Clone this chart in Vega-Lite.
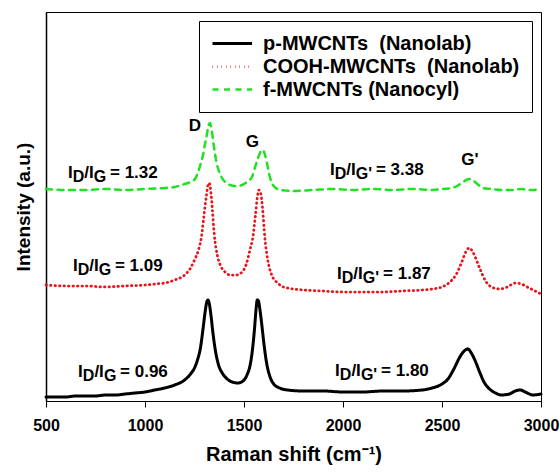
{
  "$schema": "https://vega.github.io/schema/vega-lite/v6.json",
  "width": 495,
  "height": 389,
  "autosize": "none",
  "padding": {"left": 46, "top": 12, "right": 19, "bottom": 73},
  "background": "white",
  "config": {
    "font": "Liberation Sans",
    "view": {"stroke": "black", "strokeWidth": 1},
    "axis": {"grid": false, "domainColor": "black", "tickColor": "black", "labelColor": "black", "titleColor": "black", "labelFont": "Liberation Sans", "titleFont": "Liberation Sans"},
    "legend": {"labelFont": "Liberation Sans"}
  },
  "datasets": {
    "spectra": [
      {"series": "p-MWCNTs\u00a0 (Nanolab)", "shift": 500, "intensity": 4},
      {"series": "p-MWCNTs\u00a0 (Nanolab)", "shift": 550, "intensity": 4},
      {"series": "p-MWCNTs\u00a0 (Nanolab)", "shift": 600, "intensity": 4},
      {"series": "p-MWCNTs\u00a0 (Nanolab)", "shift": 650, "intensity": 5},
      {"series": "p-MWCNTs\u00a0 (Nanolab)", "shift": 700, "intensity": 5},
      {"series": "p-MWCNTs\u00a0 (Nanolab)", "shift": 750, "intensity": 5},
      {"series": "p-MWCNTs\u00a0 (Nanolab)", "shift": 800, "intensity": 6},
      {"series": "p-MWCNTs\u00a0 (Nanolab)", "shift": 850, "intensity": 6},
      {"series": "p-MWCNTs\u00a0 (Nanolab)", "shift": 900, "intensity": 7},
      {"series": "p-MWCNTs\u00a0 (Nanolab)", "shift": 950, "intensity": 8},
      {"series": "p-MWCNTs\u00a0 (Nanolab)", "shift": 1000, "intensity": 9},
      {"series": "p-MWCNTs\u00a0 (Nanolab)", "shift": 1050, "intensity": 11},
      {"series": "p-MWCNTs\u00a0 (Nanolab)", "shift": 1100, "intensity": 13},
      {"series": "p-MWCNTs\u00a0 (Nanolab)", "shift": 1150, "intensity": 16},
      {"series": "p-MWCNTs\u00a0 (Nanolab)", "shift": 1200, "intensity": 21},
      {"series": "p-MWCNTs\u00a0 (Nanolab)", "shift": 1230, "intensity": 27},
      {"series": "p-MWCNTs\u00a0 (Nanolab)", "shift": 1250, "intensity": 33},
      {"series": "p-MWCNTs\u00a0 (Nanolab)", "shift": 1265, "intensity": 41},
      {"series": "p-MWCNTs\u00a0 (Nanolab)", "shift": 1280, "intensity": 53},
      {"series": "p-MWCNTs\u00a0 (Nanolab)", "shift": 1293, "intensity": 72},
      {"series": "p-MWCNTs\u00a0 (Nanolab)", "shift": 1305, "intensity": 91},
      {"series": "p-MWCNTs\u00a0 (Nanolab)", "shift": 1312, "intensity": 99},
      {"series": "p-MWCNTs\u00a0 (Nanolab)", "shift": 1318, "intensity": 101},
      {"series": "p-MWCNTs\u00a0 (Nanolab)", "shift": 1325, "intensity": 97},
      {"series": "p-MWCNTs\u00a0 (Nanolab)", "shift": 1333, "intensity": 86},
      {"series": "p-MWCNTs\u00a0 (Nanolab)", "shift": 1342, "intensity": 70},
      {"series": "p-MWCNTs\u00a0 (Nanolab)", "shift": 1355, "intensity": 51},
      {"series": "p-MWCNTs\u00a0 (Nanolab)", "shift": 1370, "intensity": 37},
      {"series": "p-MWCNTs\u00a0 (Nanolab)", "shift": 1390, "intensity": 28},
      {"series": "p-MWCNTs\u00a0 (Nanolab)", "shift": 1410, "intensity": 23},
      {"series": "p-MWCNTs\u00a0 (Nanolab)", "shift": 1440, "intensity": 19},
      {"series": "p-MWCNTs\u00a0 (Nanolab)", "shift": 1470, "intensity": 18},
      {"series": "p-MWCNTs\u00a0 (Nanolab)", "shift": 1495, "intensity": 20},
      {"series": "p-MWCNTs\u00a0 (Nanolab)", "shift": 1515, "intensity": 26},
      {"series": "p-MWCNTs\u00a0 (Nanolab)", "shift": 1530, "intensity": 35},
      {"series": "p-MWCNTs\u00a0 (Nanolab)", "shift": 1542, "intensity": 50},
      {"series": "p-MWCNTs\u00a0 (Nanolab)", "shift": 1553, "intensity": 72},
      {"series": "p-MWCNTs\u00a0 (Nanolab)", "shift": 1561, "intensity": 92},
      {"series": "p-MWCNTs\u00a0 (Nanolab)", "shift": 1567, "intensity": 101},
      {"series": "p-MWCNTs\u00a0 (Nanolab)", "shift": 1573, "intensity": 100},
      {"series": "p-MWCNTs\u00a0 (Nanolab)", "shift": 1580, "intensity": 92},
      {"series": "p-MWCNTs\u00a0 (Nanolab)", "shift": 1590, "intensity": 76},
      {"series": "p-MWCNTs\u00a0 (Nanolab)", "shift": 1602, "intensity": 55},
      {"series": "p-MWCNTs\u00a0 (Nanolab)", "shift": 1615, "intensity": 37},
      {"series": "p-MWCNTs\u00a0 (Nanolab)", "shift": 1630, "intensity": 25},
      {"series": "p-MWCNTs\u00a0 (Nanolab)", "shift": 1650, "intensity": 17},
      {"series": "p-MWCNTs\u00a0 (Nanolab)", "shift": 1680, "intensity": 13},
      {"series": "p-MWCNTs\u00a0 (Nanolab)", "shift": 1720, "intensity": 11},
      {"series": "p-MWCNTs\u00a0 (Nanolab)", "shift": 1800, "intensity": 10},
      {"series": "p-MWCNTs\u00a0 (Nanolab)", "shift": 1900, "intensity": 10},
      {"series": "p-MWCNTs\u00a0 (Nanolab)", "shift": 2000, "intensity": 9},
      {"series": "p-MWCNTs\u00a0 (Nanolab)", "shift": 2100, "intensity": 9},
      {"series": "p-MWCNTs\u00a0 (Nanolab)", "shift": 2200, "intensity": 10},
      {"series": "p-MWCNTs\u00a0 (Nanolab)", "shift": 2300, "intensity": 10},
      {"series": "p-MWCNTs\u00a0 (Nanolab)", "shift": 2400, "intensity": 11},
      {"series": "p-MWCNTs\u00a0 (Nanolab)", "shift": 2450, "intensity": 13},
      {"series": "p-MWCNTs\u00a0 (Nanolab)", "shift": 2500, "intensity": 17},
      {"series": "p-MWCNTs\u00a0 (Nanolab)", "shift": 2530, "intensity": 22},
      {"series": "p-MWCNTs\u00a0 (Nanolab)", "shift": 2560, "intensity": 32},
      {"series": "p-MWCNTs\u00a0 (Nanolab)", "shift": 2590, "intensity": 44},
      {"series": "p-MWCNTs\u00a0 (Nanolab)", "shift": 2612, "intensity": 50},
      {"series": "p-MWCNTs\u00a0 (Nanolab)", "shift": 2630, "intensity": 52},
      {"series": "p-MWCNTs\u00a0 (Nanolab)", "shift": 2648, "intensity": 48},
      {"series": "p-MWCNTs\u00a0 (Nanolab)", "shift": 2668, "intensity": 40},
      {"series": "p-MWCNTs\u00a0 (Nanolab)", "shift": 2690, "intensity": 29},
      {"series": "p-MWCNTs\u00a0 (Nanolab)", "shift": 2712, "intensity": 19},
      {"series": "p-MWCNTs\u00a0 (Nanolab)", "shift": 2740, "intensity": 12},
      {"series": "p-MWCNTs\u00a0 (Nanolab)", "shift": 2770, "intensity": 8},
      {"series": "p-MWCNTs\u00a0 (Nanolab)", "shift": 2800, "intensity": 6},
      {"series": "p-MWCNTs\u00a0 (Nanolab)", "shift": 2840, "intensity": 7},
      {"series": "p-MWCNTs\u00a0 (Nanolab)", "shift": 2870, "intensity": 10},
      {"series": "p-MWCNTs\u00a0 (Nanolab)", "shift": 2895, "intensity": 11},
      {"series": "p-MWCNTs\u00a0 (Nanolab)", "shift": 2920, "intensity": 9},
      {"series": "p-MWCNTs\u00a0 (Nanolab)", "shift": 2960, "intensity": 6},
      {"series": "p-MWCNTs\u00a0 (Nanolab)", "shift": 3000, "intensity": 7},

      {"series": "COOH-MWCNTs\u00a0 (Nanolab)", "shift": 500, "intensity": 116},
      {"series": "COOH-MWCNTs\u00a0 (Nanolab)", "shift": 600, "intensity": 115},
      {"series": "COOH-MWCNTs\u00a0 (Nanolab)", "shift": 700, "intensity": 115},
      {"series": "COOH-MWCNTs\u00a0 (Nanolab)", "shift": 800, "intensity": 114},
      {"series": "COOH-MWCNTs\u00a0 (Nanolab)", "shift": 900, "intensity": 115},
      {"series": "COOH-MWCNTs\u00a0 (Nanolab)", "shift": 1000, "intensity": 116},
      {"series": "COOH-MWCNTs\u00a0 (Nanolab)", "shift": 1050, "intensity": 117},
      {"series": "COOH-MWCNTs\u00a0 (Nanolab)", "shift": 1100, "intensity": 118},
      {"series": "COOH-MWCNTs\u00a0 (Nanolab)", "shift": 1150, "intensity": 121},
      {"series": "COOH-MWCNTs\u00a0 (Nanolab)", "shift": 1200, "intensity": 126},
      {"series": "COOH-MWCNTs\u00a0 (Nanolab)", "shift": 1230, "intensity": 133},
      {"series": "COOH-MWCNTs\u00a0 (Nanolab)", "shift": 1250, "intensity": 141},
      {"series": "COOH-MWCNTs\u00a0 (Nanolab)", "shift": 1270, "intensity": 151},
      {"series": "COOH-MWCNTs\u00a0 (Nanolab)", "shift": 1285, "intensity": 164},
      {"series": "COOH-MWCNTs\u00a0 (Nanolab)", "shift": 1298, "intensity": 186},
      {"series": "COOH-MWCNTs\u00a0 (Nanolab)", "shift": 1310, "intensity": 205},
      {"series": "COOH-MWCNTs\u00a0 (Nanolab)", "shift": 1318, "intensity": 216},
      {"series": "COOH-MWCNTs\u00a0 (Nanolab)", "shift": 1324, "intensity": 218},
      {"series": "COOH-MWCNTs\u00a0 (Nanolab)", "shift": 1332, "intensity": 210},
      {"series": "COOH-MWCNTs\u00a0 (Nanolab)", "shift": 1340, "intensity": 192},
      {"series": "COOH-MWCNTs\u00a0 (Nanolab)", "shift": 1350, "intensity": 166},
      {"series": "COOH-MWCNTs\u00a0 (Nanolab)", "shift": 1365, "intensity": 146},
      {"series": "COOH-MWCNTs\u00a0 (Nanolab)", "shift": 1380, "intensity": 136},
      {"series": "COOH-MWCNTs\u00a0 (Nanolab)", "shift": 1400, "intensity": 130},
      {"series": "COOH-MWCNTs\u00a0 (Nanolab)", "shift": 1430, "intensity": 126},
      {"series": "COOH-MWCNTs\u00a0 (Nanolab)", "shift": 1460, "intensity": 126},
      {"series": "COOH-MWCNTs\u00a0 (Nanolab)", "shift": 1490, "intensity": 129},
      {"series": "COOH-MWCNTs\u00a0 (Nanolab)", "shift": 1510, "intensity": 136},
      {"series": "COOH-MWCNTs\u00a0 (Nanolab)", "shift": 1530, "intensity": 151},
      {"series": "COOH-MWCNTs\u00a0 (Nanolab)", "shift": 1545, "intensity": 164},
      {"series": "COOH-MWCNTs\u00a0 (Nanolab)", "shift": 1558, "intensity": 186},
      {"series": "COOH-MWCNTs\u00a0 (Nanolab)", "shift": 1568, "intensity": 205},
      {"series": "COOH-MWCNTs\u00a0 (Nanolab)", "shift": 1576, "intensity": 211},
      {"series": "COOH-MWCNTs\u00a0 (Nanolab)", "shift": 1584, "intensity": 208},
      {"series": "COOH-MWCNTs\u00a0 (Nanolab)", "shift": 1594, "intensity": 192},
      {"series": "COOH-MWCNTs\u00a0 (Nanolab)", "shift": 1605, "intensity": 164},
      {"series": "COOH-MWCNTs\u00a0 (Nanolab)", "shift": 1620, "intensity": 141},
      {"series": "COOH-MWCNTs\u00a0 (Nanolab)", "shift": 1640, "intensity": 126},
      {"series": "COOH-MWCNTs\u00a0 (Nanolab)", "shift": 1670, "intensity": 118},
      {"series": "COOH-MWCNTs\u00a0 (Nanolab)", "shift": 1700, "intensity": 114},
      {"series": "COOH-MWCNTs\u00a0 (Nanolab)", "shift": 1800, "intensity": 111},
      {"series": "COOH-MWCNTs\u00a0 (Nanolab)", "shift": 1900, "intensity": 110},
      {"series": "COOH-MWCNTs\u00a0 (Nanolab)", "shift": 2000, "intensity": 109},
      {"series": "COOH-MWCNTs\u00a0 (Nanolab)", "shift": 2100, "intensity": 109},
      {"series": "COOH-MWCNTs\u00a0 (Nanolab)", "shift": 2200, "intensity": 109},
      {"series": "COOH-MWCNTs\u00a0 (Nanolab)", "shift": 2300, "intensity": 110},
      {"series": "COOH-MWCNTs\u00a0 (Nanolab)", "shift": 2400, "intensity": 111},
      {"series": "COOH-MWCNTs\u00a0 (Nanolab)", "shift": 2450, "intensity": 112},
      {"series": "COOH-MWCNTs\u00a0 (Nanolab)", "shift": 2500, "intensity": 114},
      {"series": "COOH-MWCNTs\u00a0 (Nanolab)", "shift": 2540, "intensity": 119},
      {"series": "COOH-MWCNTs\u00a0 (Nanolab)", "shift": 2570, "intensity": 126},
      {"series": "COOH-MWCNTs\u00a0 (Nanolab)", "shift": 2600, "intensity": 139},
      {"series": "COOH-MWCNTs\u00a0 (Nanolab)", "shift": 2620, "intensity": 149},
      {"series": "COOH-MWCNTs\u00a0 (Nanolab)", "shift": 2638, "intensity": 153},
      {"series": "COOH-MWCNTs\u00a0 (Nanolab)", "shift": 2658, "intensity": 148},
      {"series": "COOH-MWCNTs\u00a0 (Nanolab)", "shift": 2690, "intensity": 133},
      {"series": "COOH-MWCNTs\u00a0 (Nanolab)", "shift": 2720, "intensity": 120},
      {"series": "COOH-MWCNTs\u00a0 (Nanolab)", "shift": 2750, "intensity": 114},
      {"series": "COOH-MWCNTs\u00a0 (Nanolab)", "shift": 2790, "intensity": 112},
      {"series": "COOH-MWCNTs\u00a0 (Nanolab)", "shift": 2830, "intensity": 114},
      {"series": "COOH-MWCNTs\u00a0 (Nanolab)", "shift": 2870, "intensity": 118},
      {"series": "COOH-MWCNTs\u00a0 (Nanolab)", "shift": 2900, "intensity": 117},
      {"series": "COOH-MWCNTs\u00a0 (Nanolab)", "shift": 2940, "intensity": 113},
      {"series": "COOH-MWCNTs\u00a0 (Nanolab)", "shift": 2970, "intensity": 110},
      {"series": "COOH-MWCNTs\u00a0 (Nanolab)", "shift": 3000, "intensity": 107},

      {"series": "f-MWCNTs (Nanocyl)", "shift": 500, "intensity": 212},
      {"series": "f-MWCNTs (Nanocyl)", "shift": 600, "intensity": 211},
      {"series": "f-MWCNTs (Nanocyl)", "shift": 700, "intensity": 211},
      {"series": "f-MWCNTs (Nanocyl)", "shift": 800, "intensity": 212},
      {"series": "f-MWCNTs (Nanocyl)", "shift": 900, "intensity": 211},
      {"series": "f-MWCNTs (Nanocyl)", "shift": 1000, "intensity": 212},
      {"series": "f-MWCNTs (Nanocyl)", "shift": 1100, "intensity": 213},
      {"series": "f-MWCNTs (Nanocyl)", "shift": 1150, "intensity": 214},
      {"series": "f-MWCNTs (Nanocyl)", "shift": 1200, "intensity": 217},
      {"series": "f-MWCNTs (Nanocyl)", "shift": 1230, "intensity": 219},
      {"series": "f-MWCNTs (Nanocyl)", "shift": 1252, "intensity": 222},
      {"series": "f-MWCNTs (Nanocyl)", "shift": 1270, "intensity": 230},
      {"series": "f-MWCNTs (Nanocyl)", "shift": 1285, "intensity": 240},
      {"series": "f-MWCNTs (Nanocyl)", "shift": 1293, "intensity": 246},
      {"series": "f-MWCNTs (Nanocyl)", "shift": 1303, "intensity": 257},
      {"series": "f-MWCNTs (Nanocyl)", "shift": 1313, "intensity": 267},
      {"series": "f-MWCNTs (Nanocyl)", "shift": 1321, "intensity": 276},
      {"series": "f-MWCNTs (Nanocyl)", "shift": 1328, "intensity": 278},
      {"series": "f-MWCNTs (Nanocyl)", "shift": 1336, "intensity": 272},
      {"series": "f-MWCNTs (Nanocyl)", "shift": 1343, "intensity": 262},
      {"series": "f-MWCNTs (Nanocyl)", "shift": 1353, "intensity": 248},
      {"series": "f-MWCNTs (Nanocyl)", "shift": 1364, "intensity": 236},
      {"series": "f-MWCNTs (Nanocyl)", "shift": 1377, "intensity": 228},
      {"series": "f-MWCNTs (Nanocyl)", "shift": 1389, "intensity": 223},
      {"series": "f-MWCNTs (Nanocyl)", "shift": 1410, "intensity": 218},
      {"series": "f-MWCNTs (Nanocyl)", "shift": 1430, "intensity": 216},
      {"series": "f-MWCNTs (Nanocyl)", "shift": 1460, "intensity": 215},
      {"series": "f-MWCNTs (Nanocyl)", "shift": 1490, "intensity": 216},
      {"series": "f-MWCNTs (Nanocyl)", "shift": 1515, "intensity": 219},
      {"series": "f-MWCNTs (Nanocyl)", "shift": 1540, "intensity": 224},
      {"series": "f-MWCNTs (Nanocyl)", "shift": 1556, "intensity": 234},
      {"series": "f-MWCNTs (Nanocyl)", "shift": 1571, "intensity": 243},
      {"series": "f-MWCNTs (Nanocyl)", "shift": 1586, "intensity": 250},
      {"series": "f-MWCNTs (Nanocyl)", "shift": 1596, "intensity": 251},
      {"series": "f-MWCNTs (Nanocyl)", "shift": 1606, "intensity": 246},
      {"series": "f-MWCNTs (Nanocyl)", "shift": 1616, "intensity": 238},
      {"series": "f-MWCNTs (Nanocyl)", "shift": 1628, "intensity": 226},
      {"series": "f-MWCNTs (Nanocyl)", "shift": 1646, "intensity": 216},
      {"series": "f-MWCNTs (Nanocyl)", "shift": 1682, "intensity": 211},
      {"series": "f-MWCNTs (Nanocyl)", "shift": 1750, "intensity": 210},
      {"series": "f-MWCNTs (Nanocyl)", "shift": 1850, "intensity": 211},
      {"series": "f-MWCNTs (Nanocyl)", "shift": 1950, "intensity": 212},
      {"series": "f-MWCNTs (Nanocyl)", "shift": 2050, "intensity": 211},
      {"series": "f-MWCNTs (Nanocyl)", "shift": 2150, "intensity": 212},
      {"series": "f-MWCNTs (Nanocyl)", "shift": 2250, "intensity": 211},
      {"series": "f-MWCNTs (Nanocyl)", "shift": 2350, "intensity": 212},
      {"series": "f-MWCNTs (Nanocyl)", "shift": 2450, "intensity": 211},
      {"series": "f-MWCNTs (Nanocyl)", "shift": 2500, "intensity": 212},
      {"series": "f-MWCNTs (Nanocyl)", "shift": 2550, "intensity": 213},
      {"series": "f-MWCNTs (Nanocyl)", "shift": 2576, "intensity": 215},
      {"series": "f-MWCNTs (Nanocyl)", "shift": 2600, "intensity": 218},
      {"series": "f-MWCNTs (Nanocyl)", "shift": 2622, "intensity": 221},
      {"series": "f-MWCNTs (Nanocyl)", "shift": 2641, "intensity": 222},
      {"series": "f-MWCNTs (Nanocyl)", "shift": 2660, "intensity": 220},
      {"series": "f-MWCNTs (Nanocyl)", "shift": 2685, "intensity": 216},
      {"series": "f-MWCNTs (Nanocyl)", "shift": 2707, "intensity": 213},
      {"series": "f-MWCNTs (Nanocyl)", "shift": 2750, "intensity": 212},
      {"series": "f-MWCNTs (Nanocyl)", "shift": 2800, "intensity": 211},
      {"series": "f-MWCNTs (Nanocyl)", "shift": 2850, "intensity": 211},
      {"series": "f-MWCNTs (Nanocyl)", "shift": 2900, "intensity": 212},
      {"series": "f-MWCNTs (Nanocyl)", "shift": 2950, "intensity": 211},
      {"series": "f-MWCNTs (Nanocyl)", "shift": 3000, "intensity": 212}
    ],
    "ratios": [
      {"shift": 611, "intensity": 223, "sub": "G", "rest": "= 1.32"},
      {"shift": 1934, "intensity": 226, "sub": "G'", "rest": "= 3.38"},
      {"shift": 636, "intensity": 130, "sub": "G", "rest": "= 1.09"},
      {"shift": 1970, "intensity": 122, "sub": "G'", "rest": "= 1.87"},
      {"shift": 662, "intensity": 24, "sub": "G", "rest": "= 0.96"},
      {"shift": 1960, "intensity": 25, "sub": "G'", "rest": "= 1.80"}
    ],
    "peaks": [
      {"label": "D", "shift": 1252, "intensity": 270},
      {"label": "G", "shift": 1542, "intensity": 254},
      {"label": "G'", "shift": 2641, "intensity": 236}
    ]
  },
  "layer": [
    {
      "data": {"name": "spectra"},
      "mark": {"type": "line", "interpolate": "monotone", "strokeCap": "round"},
      "encoding": {
        "x": {"field": "shift", "type": "quantitative", "scale": {"domain": [500, 3000], "nice": false},
          "axis": {"values": [500, 1000, 1500, 2000, 2500, 3000], "format": "d", "title": "Raman shift (cm⁻¹)", "tickSize": 6, "labelFontSize": 16, "labelFontWeight": "bold", "labelPadding": 10, "titleFontSize": 20, "titleFontWeight": "bold", "titlePadding": 11, "labelFlush": false}},
        "y": {"field": "intensity", "type": "quantitative", "scale": {"domain": [0, 389], "nice": false},
          "axis": {"title": "Intensity (a.u.)", "ticks": false, "labels": false, "titleFontSize": 19, "titleFontWeight": "bold", "titlePadding": 13, "domainWidth": 1.5}},
        "color": {"field": "series", "type": "nominal", "sort": null,
          "scale": {"domain": ["p-MWCNTs\u00a0 (Nanolab)", "COOH-MWCNTs\u00a0 (Nanolab)", "f-MWCNTs (Nanocyl)"], "range": ["#000000", "#e8141b", "#22e022"]},
          "legend": {"title": null, "orient": "top-right", "offset": 9, "strokeColor": "black", "fillColor": "white", "padding": 12, "labelFontSize": 20, "labelFontWeight": "bold", "labelColor": "black", "symbolType": "M-1,0H3.4", "symbolSize": 324, "symbolStrokeWidth": 3, "rowPadding": 2, "labelOffset": 31, "labelLimit": 400}},
        "strokeDash": {"field": "series", "type": "nominal", "sort": null,
          "scale": {"domain": ["p-MWCNTs\u00a0 (Nanolab)", "COOH-MWCNTs\u00a0 (Nanolab)", "f-MWCNTs (Nanocyl)"], "range": [[1, 0], [0.5, 4], [6, 5.5]]},
          "legend": {"title": null}},
        "strokeWidth": {"field": "series", "type": "nominal", "sort": null,
          "scale": {"domain": ["p-MWCNTs\u00a0 (Nanolab)", "COOH-MWCNTs\u00a0 (Nanolab)", "f-MWCNTs (Nanocyl)"], "range": [3, 2.5, 2.6]},
          "legend": {"title": null}},
        "order": {"field": "shift", "type": "quantitative"}
      }
    },
    {
      "data": {"name": "peaks"},
      "mark": {"type": "text", "font": "Liberation Sans", "fontSize": 17, "fontWeight": "bold", "align": "center", "baseline": "alphabetic", "color": "black"},
      "encoding": {
        "x": {"field": "shift", "type": "quantitative"},
        "y": {"field": "intensity", "type": "quantitative"},
        "text": {"field": "label", "type": "nominal"}
      }
    },
    {
      "data": {"name": "ratios"},
      "mark": {"type": "text", "font": "Liberation Sans", "fontSize": 17, "fontWeight": "bold", "align": "left", "baseline": "alphabetic", "color": "black"},
      "encoding": {
        "x": {"field": "shift", "type": "quantitative"},
        "y": {"field": "intensity", "type": "quantitative"},
        "text": {"value": "I"}
      }
    },
    {
      "data": {"name": "ratios"},
      "mark": {"type": "text", "font": "Liberation Sans", "fontSize": 16, "fontWeight": "bold", "align": "left", "baseline": "alphabetic", "color": "black", "dx": 4.7, "dy": 4},
      "encoding": {
        "x": {"field": "shift", "type": "quantitative"},
        "y": {"field": "intensity", "type": "quantitative"},
        "text": {"value": "D"}
      }
    },
    {
      "data": {"name": "ratios"},
      "mark": {"type": "text", "font": "Liberation Sans", "fontSize": 17, "fontWeight": "bold", "align": "left", "baseline": "alphabetic", "color": "black", "dx": 16.3},
      "encoding": {
        "x": {"field": "shift", "type": "quantitative"},
        "y": {"field": "intensity", "type": "quantitative"},
        "text": {"value": "/I"}
      }
    },
    {
      "data": {"name": "ratios"},
      "mark": {"type": "text", "font": "Liberation Sans", "fontSize": 16, "fontWeight": "bold", "align": "left", "baseline": "alphabetic", "color": "black", "dx": 25.8, "dy": 4},
      "encoding": {
        "x": {"field": "shift", "type": "quantitative"},
        "y": {"field": "intensity", "type": "quantitative"},
        "text": {"field": "sub", "type": "nominal"}
      }
    },
    {
      "data": {"name": "ratios"},
      "transform": [{"filter": "datum.sub === 'G'"}],
      "mark": {"type": "text", "font": "Liberation Sans", "fontSize": 17, "fontWeight": "bold", "align": "left", "baseline": "alphabetic", "color": "black", "dx": 42},
      "encoding": {
        "x": {"field": "shift", "type": "quantitative"},
        "y": {"field": "intensity", "type": "quantitative"},
        "text": {"field": "rest", "type": "nominal"}
      }
    },
    {
      "data": {"name": "ratios"},
      "transform": [{"filter": "datum.sub !== 'G'"}],
      "mark": {"type": "text", "font": "Liberation Sans", "fontSize": 17, "fontWeight": "bold", "align": "left", "baseline": "alphabetic", "color": "black", "dx": 46},
      "encoding": {
        "x": {"field": "shift", "type": "quantitative"},
        "y": {"field": "intensity", "type": "quantitative"},
        "text": {"field": "rest", "type": "nominal"}
      }
    }
  ]
}
